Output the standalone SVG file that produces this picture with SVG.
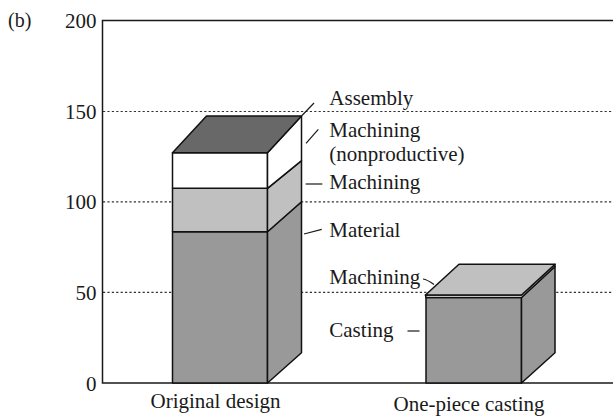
<svg xmlns="http://www.w3.org/2000/svg" width="613" height="416" viewBox="0 0 613 416" font-family="'Liberation Serif', 'DejaVu Serif', serif">
  <style>
    text { font-family: 'Liberation Serif', 'DejaVu Serif', serif; font-size: 21px; fill: #1a1a1a; }
    .tick { text-anchor: end; }
    .mid { text-anchor: middle; }
    .axis { stroke: #1a1a1a; stroke-width: 1.5; fill: none; }
    .grid { stroke: #333; stroke-width: 1.2; stroke-dasharray: 2.2 2.2; fill: none; }
    .face { stroke: #111; stroke-width: 1.5; stroke-linejoin: round; }
    .dark { fill: #686868; }
    .light { fill: #c0c0c0; }
    .mid-gray { fill: #999999; }
    .white { fill: #ffffff; }
    .lead { stroke: #1a1a1a; stroke-width: 1.2; fill: none; }
  </style>

  <!-- panel letter -->
  <text x="8" y="26.5" style="font-size:20px">(b)</text>

  <!-- grid lines at 150, 100, 50 -->
  <g id="grid">
    <line class="grid" x1="103" y1="111.5" x2="613" y2="111.5"/>
    <line class="grid" x1="103" y1="201.8" x2="613" y2="201.8"/>
    <line class="grid" x1="103" y1="292.4" x2="613" y2="292.4"/>
  </g>

  <!-- axes -->
  <g id="axes">
    <polyline class="axis" points="613,20.5 102.5,20.5 102.5,383 613,383"/>
    <text class="tick" x="96.5" y="28">200</text>
    <text class="tick" x="96.5" y="119">150</text>
    <text class="tick" x="96.5" y="209.3">100</text>
    <text class="tick" x="96.5" y="300">50</text>
    <text class="tick" x="96.5" y="390.5">0</text>
  </g>

  <!-- original design stack -->
  <g id="bar-original">
    <!-- front faces -->
    <rect class="face mid-gray" x="172.5" y="231.7" width="95" height="151.3"/>
    <rect class="face light" x="172.5" y="188.3" width="95" height="43.4"/>
    <rect class="face white" x="172.5" y="152.7" width="95" height="35.6"/>
    <!-- side faces -->
    <polygon class="face mid-gray" points="267.5,383 301.5,352.7 301.5,201.7 267.5,231.7"/>
    <polygon class="face light" points="267.5,231.7 301.5,201.7 301.5,160.7 267.5,188.3"/>
    <polygon class="face white" points="267.5,188.3 301.5,160.7 301.5,116 267.5,152.7"/>
    <!-- top -->
    <polygon class="face dark" points="172.5,152.7 267.5,152.7 301.5,116 206.5,116"/>
  </g>

  <!-- one-piece casting block -->
  <g id="bar-casting">
    <rect class="face mid-gray" x="426" y="297.5" width="95.5" height="85.5"/>
    <polygon class="face mid-gray" points="521.5,383 555,352.7 555,266.5 521.5,297.5"/>
    <!-- thin machining layer -->
    <polygon class="face white" points="425.5,295 521.5,295 555,264.3 555,266.5 521.5,297.5 426,297.5"/>
    <polygon class="face light" points="425.5,295 521.5,295 555,264.3 459,264.3"/>
  </g>

  <!-- labels and leaders -->
  <g id="connectors">
    <line class="lead" x1="302" y1="115.5" x2="314" y2="103"/>
    <line class="lead" x1="306" y1="143.3" x2="318.3" y2="129.3"/>
    <line class="lead" x1="305.7" y1="184" x2="322.3" y2="184"/>
    <line class="lead" x1="304" y1="234" x2="321.7" y2="229.3"/>
    <path class="lead" d="M423,279 Q427,279.5 434,284.5"/>
    <line class="lead" x1="407.5" y1="331" x2="419.5" y2="331"/>
  </g>

  <g id="labels">
    <text x="329.3" y="105">Assembly</text>
    <text x="329.3" y="136.7">Machining</text>
    <text x="329.3" y="160.5">(nonproductive)</text>
    <text x="329.3" y="188.5">Machining</text>
    <text x="329.3" y="236.7">Material</text>
    <text x="329.3" y="283.5">Machining</text>
    <text x="329.3" y="336.5">Casting</text>
    <text class="mid" x="215.5" y="408">Original design</text>
    <text class="mid" x="469" y="411">One-piece casting</text>
  </g>
</svg>
